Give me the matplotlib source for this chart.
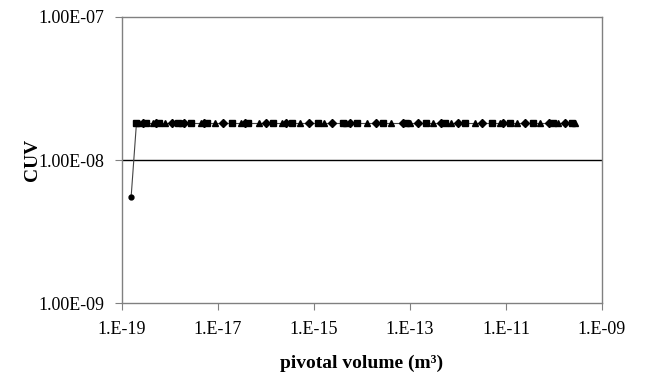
import matplotlib.pyplot as plt
from matplotlib.ticker import FixedLocator, NullLocator

# pivotal volume (m^3) and CUV values
volume = [1.55e-19, 2.0e-19, 2.3e-19, 2.7e-19, 3.2e-19, 4.5e-19, 5.2e-19, 6.0e-19,
          8.0e-19, 1.1e-18, 1.5e-18, 1.8e-18, 2.0e-18, 2.8e-18, 4.5e-18, 5.2e-18,
          6.0e-18, 8.5e-18, 1.3e-17, 2.0e-17, 3.0e-17, 3.6e-17, 4.2e-17, 7.0e-17,
          1.0e-16, 1.4e-16, 2.2e-16, 2.6e-16, 3.5e-16, 5.0e-16, 8.0e-16, 1.2e-15,
          1.6e-15, 2.4e-15, 4.0e-15, 4.6e-15, 5.5e-15, 8.0e-15, 1.3e-14, 2.0e-14,
          2.7e-14, 4.0e-14, 7.0e-14, 8.2e-14, 1.0e-13, 1.5e-13, 2.2e-13, 3.0e-13,
          4.5e-13, 5.3e-13, 7.0e-13, 1.0e-12, 1.4e-12, 2.3e-12, 3.2e-12, 5.0e-12,
          7.5e-12, 8.8e-12, 1.2e-11, 1.7e-11, 2.5e-11, 3.6e-11, 5.0e-11, 8.0e-11,
          9.4e-11, 1.2e-10, 1.7e-10, 2.4e-10, 2.7e-10]
cuv = [5.5e-9] + [1.8e-8] * (len(volume) - 1)

x_ticks = [1e-19, 1e-17, 1e-15, 1e-13, 1e-11, 1e-09]
x_labels = ["1.E-19", "1.E-17", "1.E-15", "1.E-13", "1.E-11", "1.E-09"]
y_ticks = [1e-9, 1e-8, 1e-7]
y_labels = ["1.00E-09", "1.00E-08", "1.00E-07"]

plt.rcParams["font.family"] = ["Liberation Serif", "DejaVu Serif"]

fig = plt.figure(figsize=(6.53, 3.82), dpi=100)
ax = fig.add_axes([0.1868, 0.2068, 0.7351, 0.7487])

ax.plot(volume, cuv, color="#444444", lw=0.8, zorder=2)
markers = ["D", "s", "^"]
for i, (v, c) in enumerate(zip(volume, cuv)):
    m = "o" if i == 0 else markers[i % 3]
    ax.plot(v, c, marker=m, color="black", ms=4.3 if m != "o" else 3.5,
            ls="none", zorder=3)

ax.set_xscale("log")
ax.set_yscale("log")
ax.set_xlim(1e-19, 1e-9)
ax.set_ylim(1e-9, 1e-7)

ax.xaxis.set_major_locator(FixedLocator(x_ticks))
ax.xaxis.set_minor_locator(NullLocator())
ax.set_xticklabels(x_labels)
ax.yaxis.set_major_locator(FixedLocator(y_ticks))
ax.yaxis.set_minor_locator(NullLocator())
ax.set_yticklabels(y_labels)

ax.axhline(1e-8, color="black", lw=1.0, zorder=1)

for s in ax.spines.values():
    s.set_color("#808080")
    s.set_linewidth(1.0)
ax.tick_params(axis="both", direction="out", length=5, color="#808080",
               labelsize=13, pad=8)

ax.set_xlabel("pivotal volume (m³)", fontsize=14, fontweight="bold",
              labelpad=12)
ax.set_ylabel("CUV", fontsize=14, fontweight="bold")
ax.yaxis.set_label_coords(-0.168, 0.5)

fig.savefig("out.png", dpi=100)
